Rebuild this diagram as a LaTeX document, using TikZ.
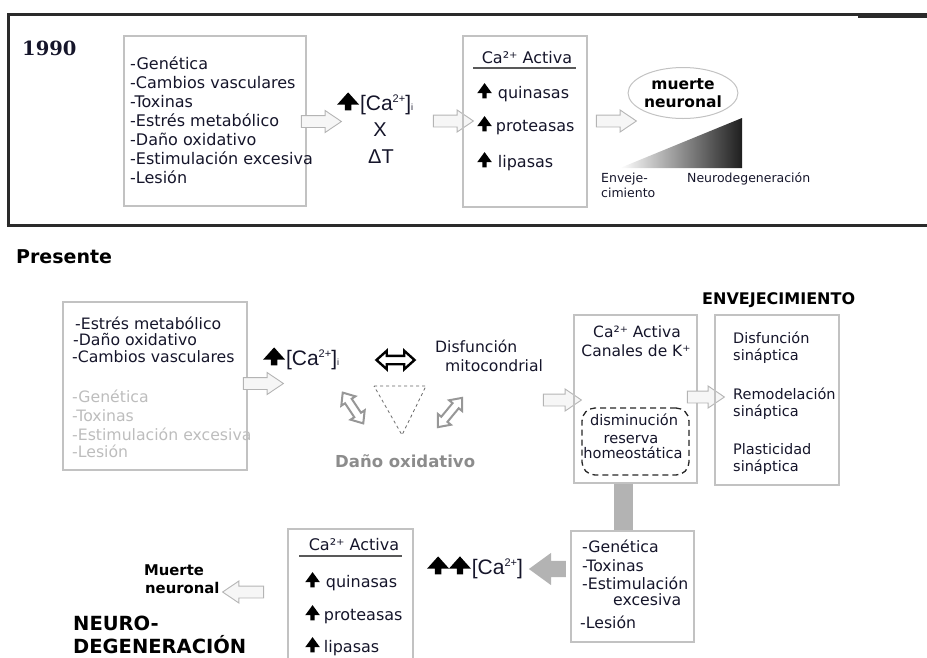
\documentclass[tikz,border=0pt]{standalone}
\usepackage{fontspec}
\setmainfont{DejaVu Sans}
\newfontfamily\arialf{Liberation Sans}
\newfontfamily\serifbf{DejaVu Serif}
\usetikzlibrary{shapes.arrows,shapes.geometric,calc}
\definecolor{txtc}{HTML}{15152A}
\definecolor{boxc}{HTML}{C2C2C2}
\definecolor{arrc}{HTML}{B4B4B4}
\definecolor{arrf}{HTML}{F6F6F6}
\definecolor{gtext}{HTML}{BDBDBD}
\definecolor{dgray}{HTML}{8C8C8C}
\definecolor{gfill}{HTML}{B3B3B3}
\definecolor{framec}{HTML}{2A2A2A}
\newcommand{\fs}[1]{\fontsize{#1}{#1}\selectfont}
\newcommand{\upar}{\tikz[baseline=0pt]\fill[black] (-0.13em,-0.02em) -- (0.13em,-0.02em) -- (0.13em,0.3em) -- (0.46em,0.3em) -- (0em,0.93em) -- (-0.46em,0.3em) -- (-0.13em,0.3em) -- cycle;}
\newcommand{\uparB}{\tikz[baseline=0pt]\fill[black] (-0.15em,-0.02em) -- (0.15em,-0.02em) -- (0.15em,0.26em) -- (0.52em,0.26em) -- (0em,0.84em) -- (-0.52em,0.26em) -- (-0.15em,0.26em) -- cycle;}
\newcommand{\CaI}{[Ca\raisebox{0.38em}{\fs{11}2+}]\raisebox{-0.03em}{\fs{9}i}}
\newcommand{\CaII}{[Ca\raisebox{0.38em}{\fs{11}2+}]}
\begin{document}
\begin{tikzpicture}[x=1pt,y=-1pt,
  t/.style={inner sep=0pt, anchor=base west, text=txtc},
  tc/.style={inner sep=0pt, anchor=base, text=txtc},
  box/.style={draw=boxc, line width=1.1pt, inner sep=0pt},
  harrow/.style={single arrow, draw=arrc, fill=arrf, line width=0.9pt, inner sep=0pt, inner ysep=5.5pt,
    single arrow head extend=5pt, single arrow tip angle=68, single arrow head indent=0pt, minimum height=40pt},
  dgarrow/.style={double arrow, draw=dgray!90, fill=white, line width=2pt, inner sep=0pt, inner ysep=3pt,
    double arrow head extend=4.5pt, double arrow tip angle=80, double arrow head indent=0pt},
  uline/.style={draw=black!65, line width=1.8pt},
  frame/.style={draw=framec, line width=3pt},
  gbar/.style={draw=gfill, line width=19pt}
]
\useasboundingbox (0,0) rectangle (927,657);

% ---------------- 1990 frame ----------------
\draw[frame] (8,225) -- (8,14.5) -- (927,14.5);
\draw[frame, line width=2pt] (858,17) -- (927,17);
\draw[frame] (6.5,225) -- (927,225);

\node[t, font=\serifbf\bfseries\fs{19.5}] (y1990) at (22,55) {1990};

\node[box, minimum width=182pt, minimum height=170pt] (b1) at (215,121) {};
\foreach \s [count=\i] in {-Genética,-Cambios vasculares,-Toxinas,-Estrés metabólico,-Daño oxidativo,-Estimulación excesiva,-Lesión}
  \node[t, font=\fs{16}] (g\i) at (130,{69+19*(\i-1)}) {\s};

\node[harrow] (a1) at (317,121.5) {};
\node[t, font=\arialf\fs{21}] (ca1) at (337,110) {\uparB\hspace{1pt}\CaI};
\node[tc, font=\arialf\fs{20}] (x1) at (380,136) {X};
\node[tc, font=\arialf\fs{20}] (dt1) at (381,163) {ΔT};
\node[harrow] (a2) at (449,121) {};

\node[box, minimum width=124pt, minimum height=171pt] (b2) at (525,121.5) {};
\node[tc, font=\fs{16}] (cact1) at (527,63) {Ca²⁺ Activa};
\draw[uline] (473,68) -- (576,68);
\node[t, font=\fs{16}] (q1) at (477,98) {\upar\hspace{6pt}quinasas};
\node[t, font=\fs{16}] (p1) at (477,131) {\upar\hspace{4pt}proteasas};
\node[t, font=\fs{16}] (l1) at (477,167) {\upar\hspace{6pt}lipasas};

\node[harrow] (a3) at (612,121) {};
\node[ellipse, draw=boxc, line width=1pt, minimum width=106pt, minimum height=51pt, inner sep=0pt,
  align=center, text=black, font=\bfseries\fontsize{15.5}{18}\selectfont] (mn) at (683,93) {muerte\\neuronal};
\shade[left color=white, right color=black!88] (620,168) -- (742,168) -- (742,118) -- cycle;
\node[t, font=\fs{12.5}] (env1) at (601,182) {Enveje-};
\node[t, font=\fs{12.5}] (env2) at (601,197) {cimiento};
\node[t, font=\fs{12.5}] (ndg) at (687,182) {Neurodegeneración};

% ---------------- Presente ----------------
\node[t, font=\bfseries\fs{19}, text=black] (pres) at (16,263) {Presente};

\node[box, minimum width=184pt, minimum height=168pt] (bA) at (155,386) {};
\node[t, font=\fs{15.7}] (e1) at (75,329) {-Estrés metabólico};
\node[t, font=\fs{15.7}] (e2) at (73,345) {-Daño oxidativo};
\node[t, font=\fs{15.7}] (e3) at (72,362) {-Cambios vasculares};
\foreach \s/\yy [count=\i] in {-Genética/402,-Toxinas/421,-Estimulación excesiva/440,-Lesión/457}
  \node[t, font=\fs{15.7}, text=gtext] (gg\i) at (72,\yy) {\s};

\node[harrow] (aA) at (259,383.5) {};
\node[t, font=\arialf\fs{21}] (ca2) at (263,365) {\uparB\hspace{1pt}\CaI};
\node[double arrow, draw=black, fill=white, line width=2.4pt, inner sep=0pt, inner ysep=3pt,
  double arrow head extend=5pt, double arrow tip angle=84, double arrow head indent=0pt,
  minimum height=38pt] (dbl) at (395.5,360) {};
\node[t, font=\fs{15.6}] (dis1) at (435,352) {Disfunción};
\node[t, font=\fs{15.6}] (dis2) at (445,371) {mitocondrial};

\draw[dashed, draw=black!60, line width=0.8pt] (374,386) -- (426,386) -- (402,435) -- cycle;
\node[dgarrow, minimum height=37pt, rotate=-56.3] (dg1) at (353,408) {};
\node[dgarrow, minimum height=38pt, rotate=50.4] (dg2) at (450,412.5) {};
\node[t, font=\bfseries\fs{16.5}, text=dgray] (dox) at (335,467) {Daño oxidativo};

\node[harrow, minimum height=38pt] (aB) at (558,400) {};
\node[box, minimum width=123pt, minimum height=168pt] (bB) at (635.5,399) {};
\node[tc, font=\fs{15.5}] (cact2) at (637,337) {Ca²⁺ Activa};
\node[tc, font=\fs{15.5}] (kch) at (636,356) {Canales de K⁺};
\node[draw=black!85, dashed, dash pattern=on 6pt off 4pt, line width=1.3pt, rounded corners=13pt,
  minimum width=107pt, minimum height=67pt, inner sep=0pt] (db) at (635.5,441.5) {};
\node[tc, font=\fs{14.6}] (dm1) at (634,425) {disminución};
\node[tc, font=\fs{14.6}] (dm2) at (631,443) {reserva};
\node[tc, font=\fs{14.6}] (dm3) at (633,458) {homeostática};

\node[harrow, minimum height=37pt] (aC) at (701.5,397) {};
\node[t, font=\bfseries\fs{16}, text=black] (envt) at (702,304) {ENVEJECIMIENTO};
\node[box, minimum width=124pt, minimum height=170pt] (bC) at (777,400) {};
\foreach \s/\yy [count=\i] in {Disfunción/343,sináptica/360,Remodelación/399,sináptica/416,Plasticidad/454,sináptica/471}
  \node[t, font=\fs{14.5}] (c\i) at (733,\yy) {\s};

% gray bar and box D
\node[box, minimum width=123pt, minimum height=111pt] (bD) at (632.5,586.5) {};
\draw[gbar] ([xshift=-12pt]bB.south) -- ([xshift=-12pt]bB.south |- bD.north);
\node[t, font=\fs{15.7}] (d1) at (582,552) {-Genética};
\node[t, font=\fs{15.7}] (d2) at (582,571) {-Toxinas};
\node[t, font=\fs{15.7}] (d3) at (582,589) {-Estimulación};
\node[t, font=\fs{15.7}] (d4) at (613,605) {excesiva};
\node[t, font=\fs{15.7}] (d5) at (580,628) {-Lesión};

\node[single arrow, shape border rotate=180, fill=gfill, draw=none, inner sep=0pt, inner ysep=8pt,
  single arrow head extend=8pt, single arrow tip angle=72, single arrow head indent=0pt,
  minimum height=37pt] (gar) at (553,569) {};
\node[t, font=\arialf\fs{21}] (ca3) at (427,574) {\uparB\uparB\hspace{1pt}\CaII};

% box E
\node[box, minimum width=125pt, minimum height=160pt] (bE) at (350.5,609) {};
\node[tc, font=\fs{16}] (cact3) at (354,550) {Ca²⁺ Activa};
\draw[uline] (299,556) -- (402,556);
\node[t, font=\fs{16}] (q2) at (305,587) {\upar\hspace{6pt}quinasas};
\node[t, font=\fs{16}] (p2) at (305,620) {\upar\hspace{4pt}proteasas};
\node[t, font=\fs{16}] (l2) at (305,652) {\upar\hspace{4pt}lipasas};

\node[harrow, shape border rotate=180, minimum height=41pt] (aM) at (247.5,592) {};
\node[t, font=\bfseries\fs{14.8}, text=black] (mu1) at (144,575) {Muerte};
\node[t, font=\bfseries\fs{14.8}, text=black] (mu2) at (145,593) {neuronal};
\node[t, font=\bfseries\fs{19.5}, text=black] (nd1) at (73,630) {NEURO-};
\node[t, font=\bfseries\fs{19.5}, text=black] (nd2) at (73,653) {DEGENERACIÓN};
\end{tikzpicture}
\end{document}
